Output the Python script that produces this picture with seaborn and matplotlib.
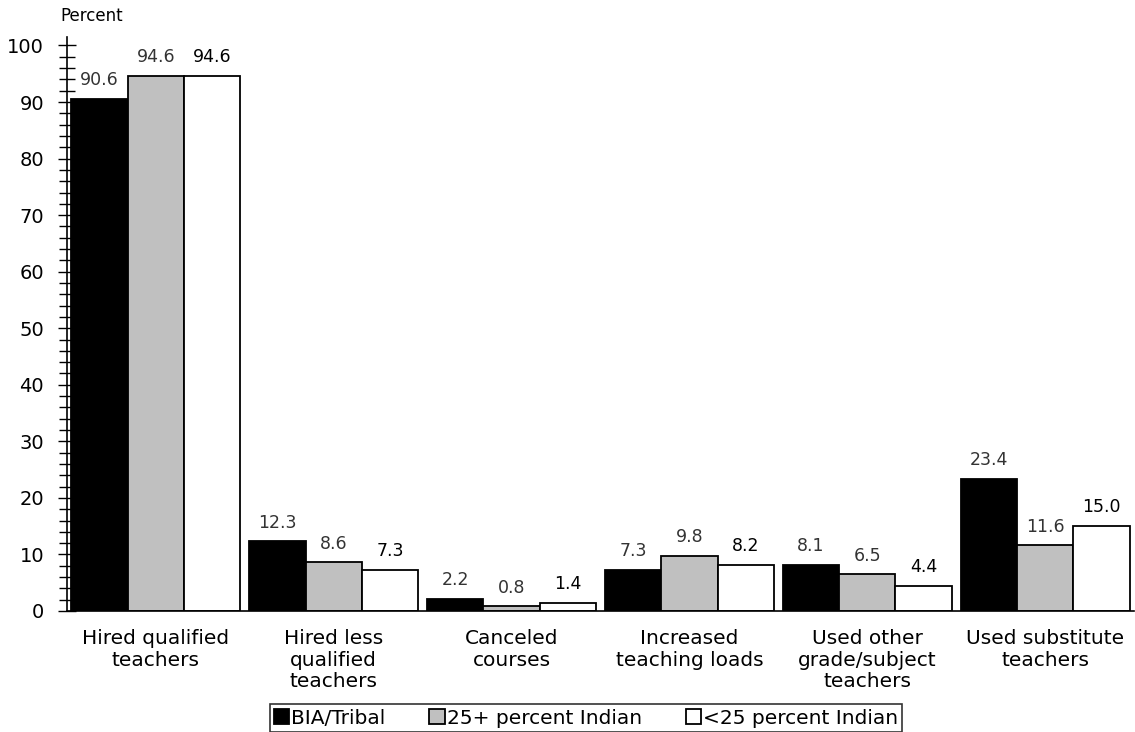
import matplotlib
matplotlib.use("Agg")
import matplotlib.pyplot as plt
import seaborn as sns
import pandas as pd
from matplotlib.ticker import MultipleLocator

categories = ["Hired qualified\nteachers", "Hired less\nqualified\nteachers", "Canceled\ncourses",
              "Increased\nteaching loads", "Used other\ngrade/subject\nteachers", "Used substitute\nteachers"]
groups = ["BIA/Tribal", "25+ percent Indian", "<25 percent Indian"]
bia = [90.6, 12.3, 2.2, 7.3, 8.1, 23.4]
ind25plus = [94.6, 8.6, 0.8, 9.8, 6.5, 11.6]
ind25less = [94.6, 7.3, 1.4, 8.2, 4.4, 15.0]

rows = []
for g, vals in zip(groups, [bia, ind25plus, ind25less]):
    for c, v in zip(categories, vals):
        rows.append({"cat": c, "group": g, "val": v})
df = pd.DataFrame(rows)

sns.set_theme(style="white")
plt.rcParams['font.family'] = ['DejaVu Sans']
plt.rcParams['text.color'] = 'black'
plt.rcParams['xtick.color'] = 'black'
plt.rcParams['ytick.color'] = 'black'

fig = plt.figure(figsize=(11.35, 7.32), dpi=100)
ax = fig.add_axes([67/1135, 121/732, 1067/1135, (611-37)/732])

sns.barplot(data=df, x="cat", y="val", hue="group", order=categories, hue_order=groups,
            palette=["black", "#c0c0c0", "white"], edgecolor="black", linewidth=1.3,
            width=0.95, gap=0, ax=ax, saturation=1, errorbar=None)

label_colors = ["#333333", "#333333", "black"]
for cont, col in zip(ax.containers, label_colors):
    ax.bar_label(cont, fmt="%.1f", padding=7, fontsize=12.5, color=col)

ax.set_xlim(-0.5, 5.5)
ax.set_ylim(0, 101.5)
ax.yaxis.set_major_locator(MultipleLocator(10))
ax.yaxis.set_minor_locator(MultipleLocator(2))
ax.set_yticks(range(0, 101, 10))
ax.tick_params(axis="y", which="major", direction="inout", length=13, width=1, color="black",
               labelsize=14, pad=10, left=True, labelcolor="black")
ax.tick_params(axis="y", which="minor", direction="inout", length=11, width=1, color="black", left=True)
ax.tick_params(axis="x", length=0, labelsize=14.5, pad=13, labelcolor="black")
ax.set_xlabel("")
ax.set_ylabel("")
for s in ["top", "right"]:
    ax.spines[s].set_visible(False)
for s in ["left", "bottom"]:
    ax.spines[s].set_color("black")
    ax.spines[s].set_linewidth(1.2)
for lab in ax.get_xticklabels():
    lab.set_linespacing(1.18)

fig.text(60/1135, 1 - 16/732, "Percent", fontsize=12, ha="left", va="center", color="black")

handles, labels = ax.get_legend_handles_labels()
leg = ax.legend(handles, labels, ncol=3, loc="center", bbox_to_anchor=(586/1135, 1 - 718/732),
          bbox_transform=fig.transFigure, frameon=True, fancybox=False, edgecolor="black",
          fontsize=14.5, handlelength=0.75, handleheight=0.75, handletextpad=0.1,
          columnspacing=2.2, borderpad=0.2, borderaxespad=0)
leg.get_frame().set_linewidth(1.2)
for t in leg.get_texts():
    t.set_color("black")

fig.savefig("out.png", dpi=100)
